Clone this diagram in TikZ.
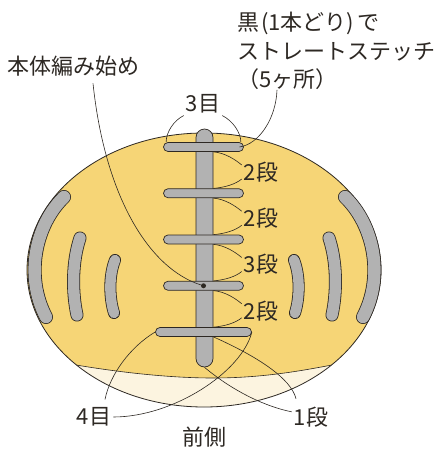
\documentclass[tikz,border=0pt]{standalone}
\usepackage{fontspec}
\setmainfont{Noto Sans CJK JP}
\usepackage{xcolor}
\usepackage{tikz}
\usetikzlibrary{
    positioning,
    calc
}
\definecolor{yolk}{RGB}{246,213,118}
\definecolor{cream}{RGB}{252,244,224}
\definecolor{stitch}{RGB}{178,178,178}
\definecolor{ink}{RGB}{45,40,35}
\tikzset{
  tag/.style = {
      font=\fontsize{22}{28.5}\selectfont,
      text=ink,
      inner sep=2pt
  },
  hbar/.style = {
      draw=ink,
      fill=stitch,
      rectangle,
      rounded corners=4.5pt,
      minimum width=80pt,
      minimum height=9pt,
      inner sep=0pt,
      line width=0.7pt
  },
  spinebar/.style = {
      hbar,
      minimum width=17pt,
      minimum height=238pt,
      rounded corners=8.5pt
  },
  sidebar/.style = {
      draw=ink,
      line cap=round,
      line width=#1,
      postaction={draw=stitch, line width=#1-1.6pt}
  },
  leader/.style = {
      draw=ink,
      line width=0.6pt
  },
  knot/.style = {
      circle,
      fill=ink,
      minimum size=5pt,
      inner sep=0pt
  }
}
\begin{document}
\begin{tikzpicture}[x=1pt, y=-1pt, node distance=46.25pt]
    \useasboundingbox (0,0) rectangle (437,450);
    % Body
    \begin{scope}
        \clip (204,270) ellipse [x radius=177, y radius=137];
        \fill[cream] (20,120) rectangle (390,420);
        \fill[yolk] (20,120) -- (390,120) -- (390,358) -- (332,365)
            .. controls (300,371) and (262,378) .. (213,378)
            .. controls (168,378) and (118,372) .. (76,365) -- (20,358) -- cycle;
        \draw[ink, line width=0.6pt] (76,365) .. controls (118,372) and (168,378) .. (213,378)
            .. controls (262,378) and (300,371) .. (332,365);
    \end{scope}
    \draw[ink, line width=0.8pt] (204,270) ellipse [x radius=177, y radius=137];
    % Side stitches
    \draw[sidebar=14pt] (64,197) .. controls (36,224) and (24,275) .. (46,317);
    \draw[sidebar=13pt] (80,238) .. controls (72,262) and (72,292) .. (77,315);
    \draw[sidebar=12pt] (115,260) .. controls (109,275) and (109,297) .. (114,313);
    \draw[sidebar=14pt] (345,197) .. controls (373,224) and (385,275) .. (363,317);
    \draw[sidebar=13pt] (329,238) .. controls (337,262) and (337,292) .. (332,315);
    \draw[sidebar=12pt] (294,260) .. controls (300,275) and (300,297) .. (295,313);
    % Nodes
    \node[spinebar] (spine) at (204.5,248) {};
    \node[hbar] (b1) at (203.5,147) {};
    \node[hbar, below of=b1] (b2) {};
    \node[hbar, below of=b2] (b3) {};
    \node[hbar, below of=b3] (b4) {};
    \node[hbar, below of=b4, minimum width=96pt] (b5) {};
    \node[knot] (cast) at (b4.center) {};
    \node[tag] (t3) at (203,104) {3目};
    \node[tag] (s1) at (261,172) {2段};
    \node[tag, below of=s1] (s2) {2段};
    \node[tag, below of=s2] (s3) {3段};
    \node[tag, below of=s3] (s4) {2段};
    \node[tag] (l4) at (94,417) {4目};
    \node[tag] (l1) at (311,417) {1段};
    \node[tag] (front) at (204,437) {前側};
    \node[tag] (start) at (74,66) {本体編み始め};
    \node[tag, anchor=north west, align=left, inner sep=0pt] (note) at (237,12)
        {黒\hspace{2pt}(1本どり)\hspace{3pt}で\\ストレートステッチ\\（5ヶ所）};
    % Edges
    \path[leader]
    (t3.south west) .. controls +(-10,5) and +(0,-10) .. ([xshift=3pt]b1.north west)
    (t3.south east) .. controls +(10,5) and +(0,-10) .. ([xshift=-3pt]b1.north east)
    ([xshift=40pt]note.south west) .. controls +(-1,28) and +(20,-3) .. ([xshift=36pt]b1.center)
    ([xshift=19pt, yshift=-5pt]start.south) .. controls +(12,114) and +(-54,-17) .. (cast)
    (b1.south -| spine.east) .. controls +(12,1) and +(-6,-5) .. (s1.160)
    (s1.200) .. controls +(-6,5) and +(12,-1) .. (b2.north -| spine.east)
    (b2.south -| spine.east) .. controls +(12,1) and +(-6,-5) .. (s2.160)
    (s2.200) .. controls +(-6,5) and +(12,-1) .. (b3.north -| spine.east)
    (b3.south -| spine.east) .. controls +(12,1) and +(-6,-5) .. (s3.160)
    (s3.200) .. controls +(-6,5) and +(12,-1) .. (b4.north -| spine.east)
    (b4.south -| spine.east) .. controls +(12,1) and +(-6,-5) .. (s4.160)
    (s4.200) .. controls +(-6,5) and +(12,-1) .. (b5.north -| spine.east)
    (b5.west) .. controls +(-25,15) and +(5,-25) .. ([xshift=11pt, yshift=6pt]l4.north)
    (b5.east) .. controls +(-10,40) and +(60,0) .. (l4.east)
    (b5.south -| spine.east) .. controls +(45,20) and +(-5,-20) .. ([xshift=-15pt, yshift=6pt]l1.north)
    (spine.south) .. controls +(30,25) and +(-25,-5) .. (l1.165);
\end{tikzpicture}
\end{document}
